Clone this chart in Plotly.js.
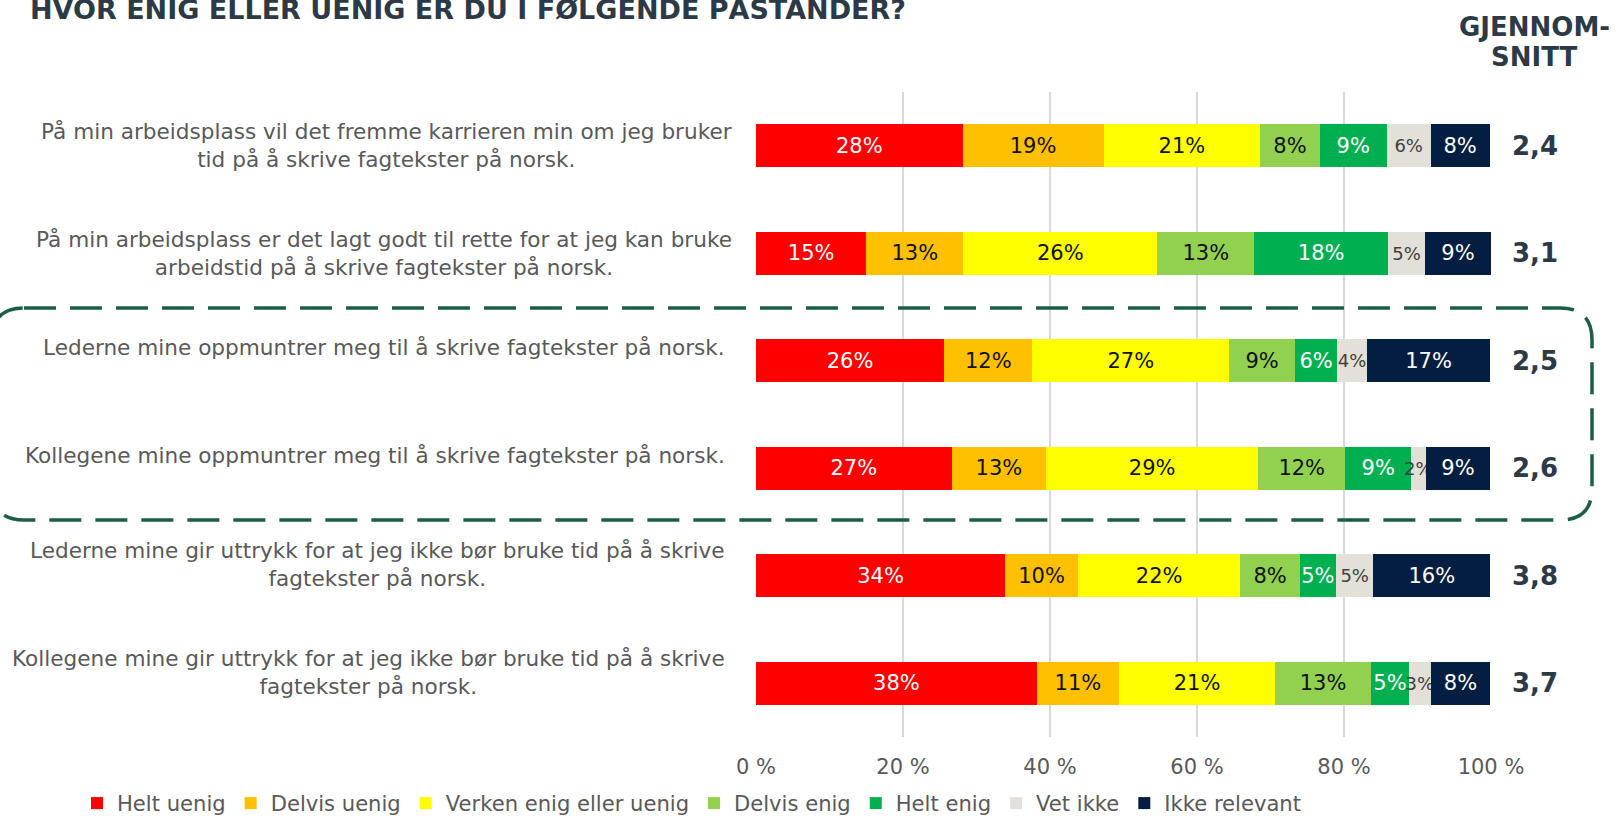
<!DOCTYPE html>
<html>
<head>
<meta charset="utf-8">
<script src="https://cdn.plot.ly/plotly-3.0.1.min.js"></script>
<style>html,body{margin:0;padding:0;background:#fff;overflow:hidden;}#chart{width:1616px;height:836px;}</style>
</head>
<body>
<div id="chart"></div>
<script>
// ---- data ----
const categories = [
  "På min arbeidsplass vil det fremme karrieren min om jeg bruker<br>tid på å skrive fagtekster på norsk.",
  "På min arbeidsplass er det lagt godt til rette for at jeg kan bruke<br>arbeidstid på å skrive fagtekster på norsk.",
  "Lederne mine oppmuntrer meg til å skrive fagtekster på norsk.",
  "Kollegene mine oppmuntrer meg til å skrive fagtekster på norsk.",
  "Lederne mine gir uttrykk for at jeg ikke bør bruke tid på å skrive<br>fagtekster på norsk.",
  "Kollegene mine gir uttrykk for at jeg ikke bør bruke tid på å skrive<br>fagtekster på norsk."
];
const seriesNames = ["Helt uenig","Delvis uenig","Verken enig eller uenig","Delvis enig","Helt enig","Vet ikke","Ikke relevant"];
const heltUenig    = [28.1, 15.0, 25.6, 26.6, 33.9, 38.2];
const delvisUenig  = [19.2, 13.2, 12.0, 12.9,  9.9, 11.2];
const verken       = [21.3, 26.4, 26.8, 28.8, 22.1, 21.2];
const delvisEnig   = [ 8.1, 13.2,  8.9, 11.9,  8.1, 13.1];
const heltEnig     = [ 9.1, 18.2,  5.8,  8.9,  4.9,  5.1];
const vetIkke      = [ 6.0,  5.0,  4.0,  2.0,  5.1,  3.0];
const ikkeRelevant = [ 8.0,  9.0, 16.8,  8.8, 15.9,  8.1];
const averages     = ["2,4","3,1","2,5","2,6","3,8","3,7"];
const tickVals     = [0,20,40,60,80,100];
const tickLabels   = ["0 %","20 %","40 %","60 %","80 %","100 %"];
const titleText    = "HVOR ENIG ELLER UENIG ER DU I FØLGENDE PÅSTANDER?";
const avgHeader    = ["GJENNOM-","SNITT"];

// ---- styling ----
const FONT = "DejaVu Sans";
const FIG_W = 1616, FIG_H = 836;
const colors = ["#FF0000","#FFC000","#FFFF00","#92D050","#00B050","#E3E0D8","#041E42"];
const textColors = ["#ffffff","#111111","#111111","#111111","#ffffff","#404040","#ffffff"];
const textSizes = [21,21,21,21,21,18,21];
const allSeries = [heltUenig, delvisUenig, verken, delvisEnig, heltEnig, vetIkke, ikkeRelevant];
const yIdx = categories.map((c,i)=>i);

const traces = allSeries.map((vals, s) => ({
  type: "bar",
  orientation: "h",
  name: seriesNames[s],
  x: vals,
  y: yIdx,
  marker: {color: colors[s], line: {width: 0}},
  texttemplate: "%{x:.0f}%",
  textposition: "inside",
  insidetextanchor: "middle",
  textangle: 0,
  constraintext: "none",
  textfont: {family: FONT, size: textSizes[s], color: textColors[s]},
  hoverinfo: "name+x",
  cliponaxis: false
}));

// pixel helpers for paper coords
const L = 756, R = 1491, T = 92, B = 743;
const px = x => (x - L) / (R - L);
const py = y => (B - y) / (B - T);

const annotations = [];
const labelShift = [0, 0, 13, 13, 11, 11];
const labelXShift = [-22, -22, -29, -29, -29, -29];
categories.forEach((c, i) => {
  annotations.push({
    xref: "paper", yref: "y", x: 0, y: i, xanchor: "right", yanchor: "middle",
    xshift: labelXShift[i], yshift: labelShift[i], align: "center", showarrow: false, text: c,
    font: {family: FONT, size: 21.6, color: "#595959"}
  });
  annotations.push({
    xref: "paper", yref: "y", x: px(1535), y: i, xanchor: "center", yanchor: "middle",
    showarrow: false, text: "<b>" + averages[i] + "</b>",
    font: {family: FONT, size: 26, color: "#2B3A46"}
  });
});
annotations.push({
  xref: "paper", yref: "paper", x: px(28), y: py(9), xanchor: "left", yanchor: "middle",
  showarrow: false, text: "<b>" + titleText + "</b>",
  font: {family: FONT, size: 27, color: "#2B3A46"}
});
avgHeader.forEach((t, k) => {
  annotations.push({
    xref: "paper", yref: "paper", x: px(1534), y: py(26 + 31 * k), xanchor: "center", yanchor: "middle",
    showarrow: false, text: "<b>" + t + "</b>",
    font: {family: FONT, size: 26, color: "#2B3A46"}
  });
});

// rounded dashed box
const bx0 = -8, bx1 = 1592, by0 = 310, by1 = 524, r = 32;
const P = (x, y) => px(x).toFixed(5) + "," + py(y).toFixed(5);
const boxPath = "M" + P(bx0 + r, by0) + " L" + P(bx1 - r, by0) +
  " Q" + P(bx1, by0) + " " + P(bx1, by0 + r) +
  " L" + P(bx1, by1 - r) + " Q" + P(bx1, by1) + " " + P(bx1 - r, by1) +
  " L" + P(bx0 + r, by1) + " Q" + P(bx0, by1) + " " + P(bx0, by1 - r) +
  " L" + P(bx0, by0 + r) + " Q" + P(bx0, by0) + " " + P(bx0 + r, by0) + " Z";

const layout = {
  width: FIG_W, height: FIG_H,
  margin: {l: L, r: FIG_W - R, t: T, b: FIG_H - B, pad: 0},
  paper_bgcolor: "#ffffff", plot_bgcolor: "#ffffff",
  barmode: "stack", bargap: 0.6,
  font: {family: FONT, size: 21, color: "#595959"},
  showlegend: true,
  legend: {
    orientation: "h", x: px(77), xanchor: "left", y: py(810), yanchor: "middle",
    font: {family: FONT, size: 21.1, color: "#595959"}, traceorder: "normal",
    bgcolor: "rgba(0,0,0,0)", itemwidth: 30
  },
  xaxis: {
    range: [0, 100], tickmode: "array", tickvals: tickVals, ticktext: tickLabels,
    showgrid: true, gridcolor: "#D9D9D9", gridwidth: 1.5, zeroline: false, showline: false,
    ticks: "", ticklabelstandoff: 15, tickfont: {family: FONT, size: 21, color: "#595959"},
    fixedrange: true, automargin: false
  },
  yaxis: {
    type: "linear", range: [5.5, -0.5], showticklabels: false, showgrid: false,
    zeroline: false, showline: false, ticks: "", fixedrange: true, automargin: false
  },
  annotations: annotations,
  shapes: [{
    type: "path", xref: "paper", yref: "paper", path: boxPath,
    line: {color: "#1B5E45", width: 3.5, dash: "32px,14px"}, layer: "above"
  }]
};

Plotly.newPlot("chart", traces, layout, {displayModeBar: false, staticPlot: true});
</script>
</body>
</html>
